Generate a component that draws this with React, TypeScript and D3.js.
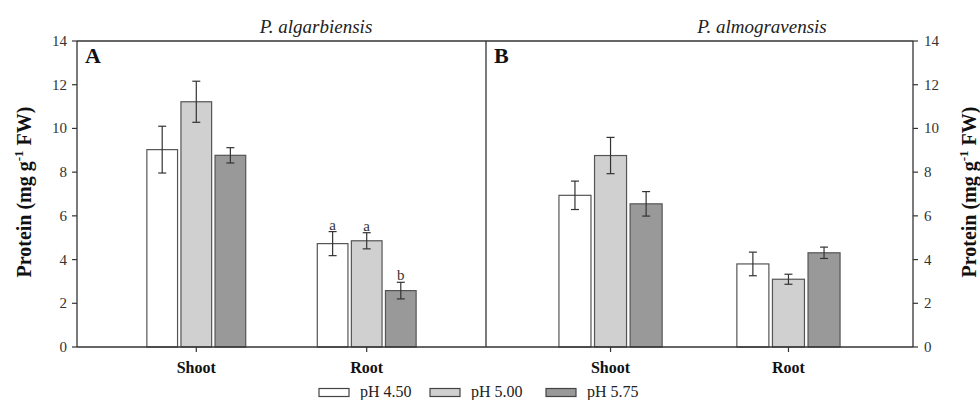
import React from "react";
import * as d3 from "d3";

const categories = ["Shoot", "Root"];
const series = ["pH 4.50", "pH 5.00", "pH 5.75"];
const seriesColors = ["#ffffff", "#d0d0d0", "#999999"];
const yTicks = [0, 2, 4, 6, 8, 10, 12, 14];

// Panel A: P. algarbiensis  [Shoot, Root] per series
const algarbiensisMean = [
  [9.03, 4.73],
  [11.22, 4.86],
  [8.77, 2.58],
];
const algarbiensisErr = [
  [1.07, 0.55],
  [0.94, 0.37],
  [0.35, 0.38],
];
const algarbiensisLetters = [
  ["", "a"],
  ["", "a"],
  ["", "b"],
];

// Panel B: P. almogravensis
const almogravensisMean = [
  [6.94, 3.8],
  [8.76, 3.1],
  [6.55, 4.31],
];
const almogravensisErr = [
  [0.65, 0.54],
  [0.83, 0.23],
  [0.56, 0.26],
];

const FONT = "'Liberation Serif', 'Times New Roman', Times, serif";

type PanelProps = {
  x0: number;
  x1: number;
  title: string;
  titleX: number;
  letter: string;
  means: number[][];
  errs: number[][];
  letters?: string[][];
  y: d3.ScaleLinear<number, number>;
};

function Panel({ x0, x1, title, titleX, letter, means, errs, letters, y }: PanelProps) {
  const x = d3.scalePoint<string>().domain(categories).range([x0, x1]).padding(0.7);
  const step = x.step();
  const groupW = step * 0.58;
  const inner = d3
    .scaleBand<string>()
    .domain(series)
    .range([-groupW / 2, groupW / 2])
    .paddingInner(0.1);
  const y0 = y(0);
  const capW = 8;
  return (
    <g>
      <text x={titleX} y={33} fontFamily={FONT} fontStyle="italic" fontSize={19} textAnchor="middle" fill="#222">
        {title}
      </text>
      <text x={x0 + 8} y={63} fontFamily={FONT} fontWeight="bold" fontSize={22} fill="#111">
        {letter}
      </text>
      <line x1={x0} x2={x1} y1={y(14)} y2={y(14)} stroke="#333" strokeWidth={1.3} />
      {series.map((s, si) =>
        categories.map((c, ci) => {
          const cx = (x(c) as number) + (inner(s) as number);
          const bw = inner.bandwidth();
          const m = means[si][ci];
          const e = errs[si][ci];
          const mid = cx + bw / 2;
          const lt = letters ? letters[si][ci] : "";
          return (
            <g key={s + c}>
              <rect x={cx} y={y(m)} width={bw} height={y0 - y(m)} fill={seriesColors[si]} stroke="#555" strokeWidth={1.2} />
              <line x1={mid} x2={mid} y1={y(m + e)} y2={y(m - e)} stroke="#333" strokeWidth={1.2} />
              <line x1={mid - capW / 2} x2={mid + capW / 2} y1={y(m + e)} y2={y(m + e)} stroke="#333" strokeWidth={1.2} />
              <line x1={mid - capW / 2} x2={mid + capW / 2} y1={y(m - e)} y2={y(m - e)} stroke="#333" strokeWidth={1.2} />
              {lt && (
                <text x={mid} y={y(m + e) - 2} fontFamily={FONT} fontSize={15} textAnchor="middle" fill="#333">
                  {lt}
                </text>
              )}
            </g>
          );
        })
      )}
      {categories.map((c) => (
        <g key={c}>
          <line x1={x(c)} x2={x(c)} y1={y0} y2={y0 + 5} stroke="#333" strokeWidth={1.2} />
          <text x={x(c)} y={373} fontFamily={FONT} fontWeight="bold" fontSize={16} textAnchor="middle" fill="#111">
            {c}
          </text>
        </g>
      ))}
    </g>
  );
}

export default function App() {
  const left = 77;
  const mid = 486;
  const right = 913;
  const y = d3.scaleLinear().domain([0, 14]).range([347, 41]);
  const legendX = [319, 430, 546];
  const yLabel = (
    <>
      Protein (mg g
      <tspan fontSize={13} dy={-8}>-1</tspan>
      <tspan dy={8}> FW)</tspan>
    </>
  );
  return (
    <svg
      width={980}
      height={400}
      style={{ position: "absolute", left: 0, top: 0, background: "#fff" }}
    >
      <rect x={0} y={0} width={980} height={400} fill="#fff" />
      <Panel
        x0={left}
        x1={mid}
        title="P. algarbiensis"
        titleX={316}
        letter="A"
        means={algarbiensisMean}
        errs={algarbiensisErr}
        letters={algarbiensisLetters}
        y={y}
      />
      <Panel
        x0={mid}
        x1={right}
        title="P. almogravensis"
        titleX={762}
        letter="B"
        means={almogravensisMean}
        errs={almogravensisErr}
        y={y}
      />
      {/* axes */}
      <line x1={left} x2={right} y1={y(0)} y2={y(0)} stroke="#333" strokeWidth={1.3} />
      <line x1={left} x2={left} y1={y(0)} y2={y(14)} stroke="#333" strokeWidth={1.3} />
      <line x1={mid} x2={mid} y1={y(0)} y2={y(14)} stroke="#333" strokeWidth={1.3} />
      <line x1={right} x2={right} y1={y(0)} y2={y(14)} stroke="#333" strokeWidth={1.3} />
      {yTicks.map((t) => (
        <g key={t}>
          <line x1={left - 5} x2={left} y1={y(t)} y2={y(t)} stroke="#333" strokeWidth={1.2} />
          <text x={left - 10} y={y(t) + 5} fontFamily={FONT} fontSize={15} textAnchor="end" fill="#333">
            {t}
          </text>
          <line x1={right} x2={right + 5} y1={y(t)} y2={y(t)} stroke="#333" strokeWidth={1.2} />
          <text x={right + 11} y={y(t) + 5} fontFamily={FONT} fontSize={15} textAnchor="start" fill="#333">
            {t}
          </text>
        </g>
      ))}
      <text
        transform="translate(31,192) rotate(-90)"
        fontFamily={FONT}
        fontWeight="bold"
        fontSize={20}
        textAnchor="middle"
        fill="#111"
      >
        {yLabel}
      </text>
      <text
        transform="translate(976,192) rotate(-90)"
        fontFamily={FONT}
        fontWeight="bold"
        fontSize={20}
        textAnchor="middle"
        fill="#111"
      >
        {yLabel}
      </text>
      {/* legend */}
      {series.map((s, i) => (
        <g key={s}>
          <rect x={legendX[i]} y={388.5} width={30} height={8} fill={seriesColors[i]} stroke="#444" strokeWidth={1.2} />
          <text x={legendX[i] + 41} y={397} fontFamily={FONT} fontSize={16} fill="#222">
            {s}
          </text>
        </g>
      ))}
    </svg>
  );
}
